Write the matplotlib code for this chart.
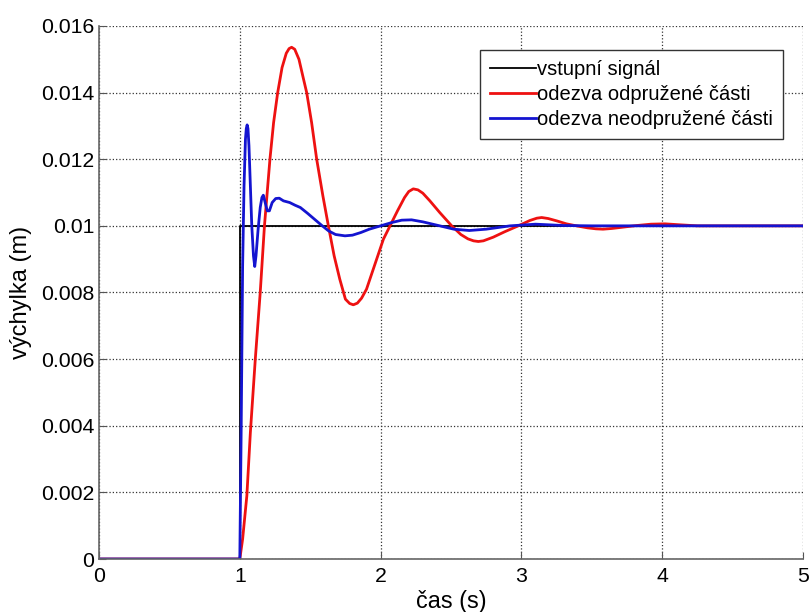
import matplotlib
matplotlib.use("Agg")
import matplotlib.pyplot as plt

plt.rcParams['font.family'] = ['Liberation Sans', 'DejaVu Sans']

# vstupni signal (skok v t = 1 s)
t_in = [0.0, 1.0, 1.0, 5.0]
y_in = [0.0, 0.0, 0.01, 0.01]

# odezva odpruzene casti
t_red = [0.0, 1.0, 1.02, 1.05, 1.075, 1.11, 1.145, 1.175, 1.214, 1.24, 1.269,
         1.30, 1.33, 1.35, 1.368, 1.39, 1.42, 1.45, 1.475, 1.51, 1.546, 1.59,
         1.629, 1.67, 1.71, 1.75, 1.78, 1.806, 1.835, 1.865, 1.90, 1.94, 1.98,
         2.02, 2.067, 2.12, 2.17, 2.20, 2.232, 2.265, 2.30, 2.35, 2.42, 2.505,
         2.57, 2.62, 2.66, 2.694, 2.73, 2.80, 2.88, 2.978, 3.06, 3.11, 3.144,
         3.19, 3.25, 3.32, 3.39, 3.47, 3.53, 3.58, 3.64, 3.72, 3.82, 3.92,
         4.02, 4.13, 4.25, 5.0]
y_red = [0.0, 0.0, 0.0006, 0.0019, 0.0038, 0.0060, 0.0080, 0.0100, 0.0120,
         0.0131, 0.0140, 0.01475, 0.01518, 0.01532, 0.01536, 0.01530, 0.0150,
         0.01445, 0.0140, 0.0131, 0.0120, 0.0109, 0.0100, 0.0091, 0.0084,
         0.0078, 0.00767, 0.00763, 0.00768, 0.00783, 0.0081, 0.0086, 0.0091,
         0.0096, 0.0100, 0.01045, 0.01085, 0.01103, 0.01111, 0.01108, 0.01098,
         0.01075, 0.0104, 0.0100, 0.00974, 0.00961, 0.00955, 0.00953, 0.00955,
         0.00966, 0.00982, 0.01000, 0.01016, 0.01023, 0.01025, 0.01022,
         0.01015, 0.01006, 0.01000, 0.00994, 0.00991, 0.00990, 0.00992,
         0.00996, 0.01001, 0.01005, 0.01006, 0.01003, 0.01000, 0.01000]

# odezva neodpruzene casti
t_blue = [0.0, 1.0, 1.01, 1.02, 1.03, 1.04, 1.046, 1.052, 1.058, 1.065, 1.075,
          1.085, 1.097, 1.106, 1.115, 1.13, 1.145, 1.157, 1.167, 1.18, 1.195,
          1.21, 1.23, 1.255, 1.28, 1.31, 1.354, 1.392, 1.43, 1.48, 1.53, 1.58,
          1.63, 1.68, 1.747, 1.8, 1.86, 1.92, 2.0, 2.08, 2.15, 2.22, 2.3, 2.42,
          2.52, 2.63, 2.75, 2.92, 3.1, 3.3, 3.5, 5.0]
y_blue = [0.0, 0.0, 0.0040, 0.0088, 0.0112, 0.0126, 0.01292, 0.01303, 0.01292,
          0.0124, 0.0112, 0.0100, 0.0091, 0.00878, 0.0091, 0.0099, 0.01055,
          0.01085, 0.01092, 0.0107, 0.01045, 0.01045, 0.0107, 0.01082,
          0.01083, 0.01075, 0.01070, 0.01062, 0.01055, 0.01038, 0.01020,
          0.01002, 0.00985, 0.00974, 0.00970, 0.00972, 0.00980, 0.00990,
          0.01000, 0.01010, 0.01017, 0.01018, 0.01012, 0.01000, 0.00990,
          0.00986, 0.00990, 0.01000, 0.01005, 0.01001, 0.01000, 0.01000]

labels = ['vstupní signál', 'odezva odpružené části', 'odezva neodpružené části']
x_ticks = [0, 1, 2, 3, 4, 5]
y_ticks = [0, 0.002, 0.004, 0.006, 0.008, 0.01, 0.012, 0.014, 0.016]
y_tick_labels = ['0', '0.002', '0.004', '0.006', '0.008', '0.01', '0.012', '0.014', '0.016']

fig = plt.figure(figsize=(8.11, 6.12), dpi=100)
ax = fig.add_axes([0.1221, 0.0866, 0.868, 0.871])

ax.plot(t_in, y_in, color='black', lw=1.3, label=labels[0])
ax.plot(t_red, y_red, color='#ee1111', lw=2.0, label=labels[1])
ax.plot(t_blue, y_blue, color='#1414d0', lw=2.0, label=labels[2])

ax.set_xlim(0, 5)
ax.set_ylim(0, 0.016)
ax.set_xticks(x_ticks)
ax.set_yticks(y_ticks)
ax.set_yticklabels(y_tick_labels)
ax.tick_params(direction='in', labelsize=15.3, length=5, color='#555555')
ax.tick_params(axis='x', pad=5.5)
ax.grid(True, linestyle=':', color='#333333', linewidth=0.9)

for side in ['top', 'right']:
    ax.spines[side].set_visible(False)
for side in ['left', 'bottom']:
    ax.spines[side].set_color('#666666')
    ax.spines[side].set_linewidth(1.2)

ax.set_xlabel('čas (s)', fontsize=16.8, labelpad=3)
ax.set_ylabel('výchylka (m)', fontsize=17, labelpad=6)

leg = ax.legend(loc='upper right', bbox_to_anchor=(0.9716, 0.955), fontsize=14.5,
                fancybox=False, framealpha=1, edgecolor='#333333',
                handlelength=2.3, handletextpad=0.05, borderpad=0.5,
                labelspacing=0.3, borderaxespad=0)
leg.get_frame().set_linewidth(1.0)

fig.savefig('out.png', dpi=100)
